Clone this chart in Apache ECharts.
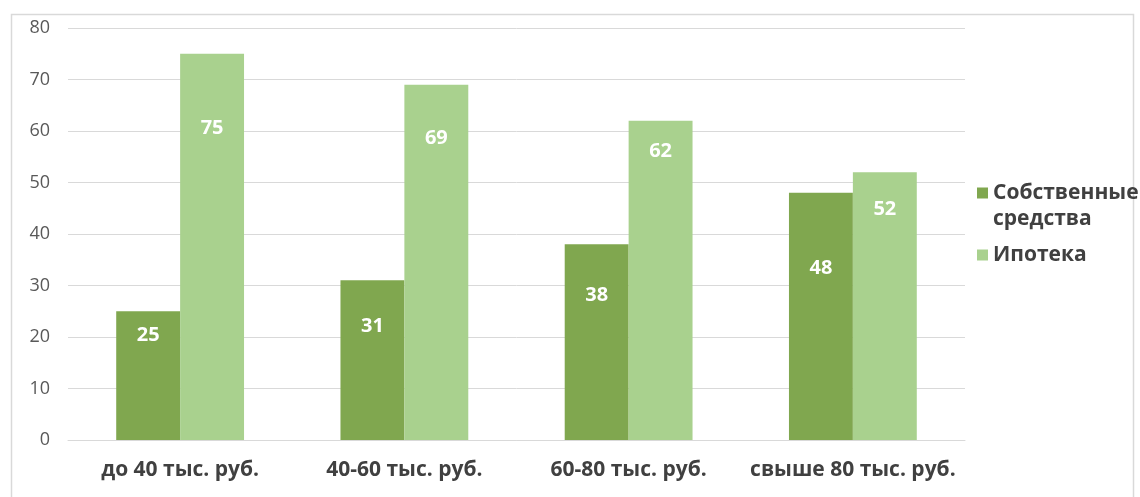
<!DOCTYPE html>
<html>
<head>
<meta charset="utf-8">
<script src="https://cdn.jsdelivr.net/npm/echarts@6/dist/echarts.min.js"></script>
<style>
html, body { margin: 0; padding: 0; background: #fff; }
#chart { width: 1140px; height: 497px; }
</style>
</head>
<body>
<div id="chart"></div>
<script>
// данные
const categories = ["до 40 тыс. руб.", "40-60 тыс. руб.", "60-80 тыс. руб.", "свыше 80 тыс. руб."];
const ownFunds = [25, 31, 38, 48];
const mortgage = [75, 69, 62, 52];
const seriesNames = ["Собственные средства", "Ипотека"];

// отступ подписи от верха столбца (подписи сдвинуты вручную, как в оригинале)
const ownLabelDist = [14, 36, 41, 65];
const mortgageLabelDist = [65, 44, 21, 27];

const chart = echarts.init(document.getElementById("chart"));

const labelStyle = {
	show: true,
	position: "insideTop",
	color: "#fff",
	fontFamily: "Open Sans",
	fontWeight: "bold",
	fontSize: 20,
};

function withLabels(values, dists) {
	return values.map((v, i) => ({ value: v, label: { distance: dists[i] } }));
}

const option = {
	animation: false,
	backgroundColor: "#fff",
	graphic: [
		{
			type: "rect",
			left: 9,
			top: 12,
			shape: { width: 1122, height: 500 },
			style: { fill: "none", stroke: "#d9d9d9", lineWidth: 1.5 },
			silent: true,
		},
	],
	grid: {
		left: 68,
		right: 175,
		top: 28,
		bottom: 57,
	},
	legend: {
		orient: "vertical",
		left: 972,
		top: 149,
		itemWidth: 11,
		itemHeight: 11,
		itemGap: 10,
		icon: "rect",
		// пустая первая строка, чтобы квадрат встал напротив первой строки
		formatter: (name) => (name === seriesNames[0] ? " \nСобственные\nсредства" : name),
		textStyle: {
			color: "#404040",
			fontFamily: "Open Sans",
			fontWeight: "bold",
			fontSize: 21,
			lineHeight: 26,
		},
		data: seriesNames,
	},
	xAxis: {
		type: "category",
		data: categories,
		axisLine: { lineStyle: { color: "#d9d9d9" } },
		axisTick: { show: false },
		axisLabel: {
			interval: 0,
			hideOverlap: false,
			color: "#404040",
			fontFamily: "Open Sans",
			fontWeight: "bold",
			fontSize: 21,
			margin: 20,
		},
	},
	yAxis: {
		type: "value",
		min: 0,
		max: 80,
		interval: 10,
		axisLine: { show: false },
		axisTick: { show: false },
		splitLine: { lineStyle: { color: "#d9d9d9" } },
		axisLabel: {
			color: "#595959",
			fontFamily: "Open Sans",
			fontSize: 18,
			margin: 18,
		},
	},
	series: [
		{
			name: seriesNames[0],
			type: "bar",
			data: withLabels(ownFunds, ownLabelDist),
			barGap: "0%",
			barCategoryGap: "43%",
			itemStyle: { color: "#80a74f" },
			label: labelStyle,
		},
		{
			name: seriesNames[1],
			type: "bar",
			data: withLabels(mortgage, mortgageLabelDist),
			itemStyle: { color: "#a9d18e" },
			label: labelStyle,
		},
	],
};

chart.setOption(option);
</script>
</body>
</html>
